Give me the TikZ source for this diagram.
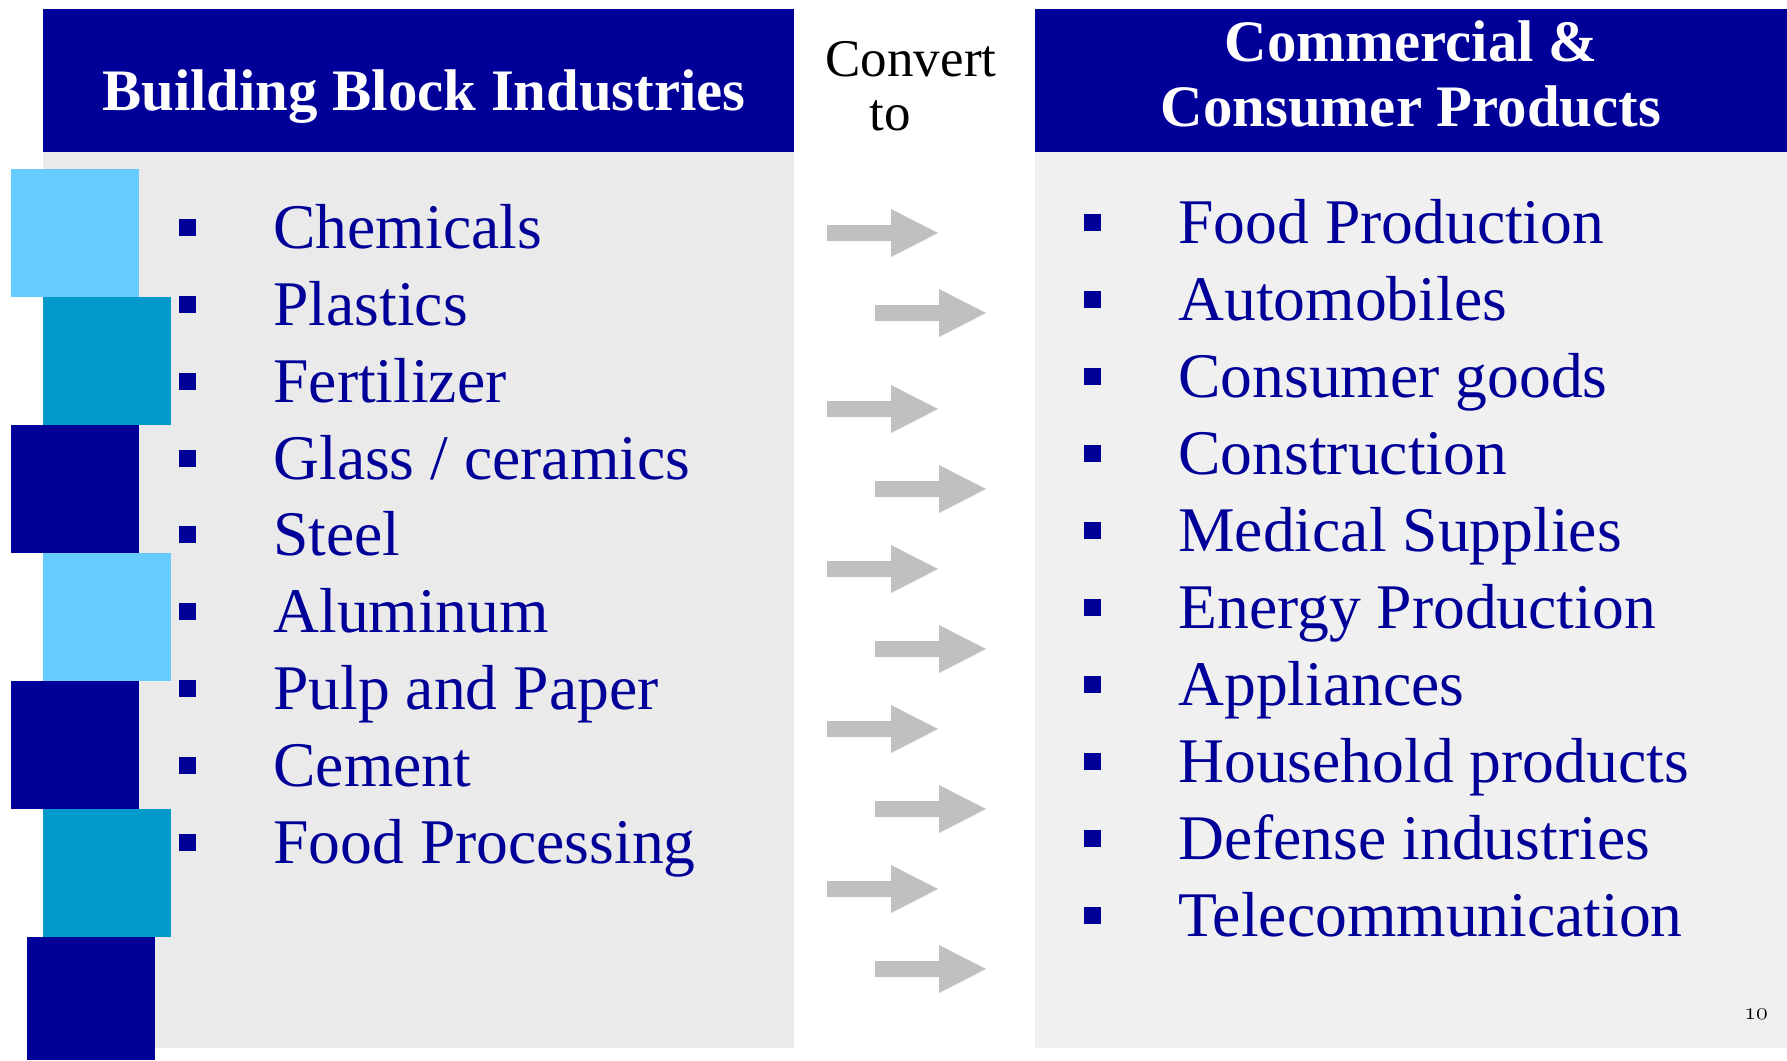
\documentclass[tikz,border=0pt]{standalone}
\usepackage{fontspec}
\setmainfont{Liberation Serif}
\definecolor{blocknavy}{HTML}{000099}
\definecolor{blocksky}{HTML}{66CCFF}
\definecolor{blockteal}{HTML}{0099CC}
\definecolor{leftgray}{HTML}{EAEAEA}
\definecolor{rightgray}{HTML}{F0F0F0}
\definecolor{arrowgray}{HTML}{C0C0C0}
\tikzset{
  head/.style={font=\bfseries\fontsize{29.4}{32.15}\selectfont, text=white, align=center, inner sep=0pt, anchor=base},
  item/.style={font=\fontsize{31.8}{38}\selectfont, text=blocknavy, anchor=base west, inner sep=0pt},
}
\begin{document}
\begin{tikzpicture}[x=0.5pt,y=-0.5pt]
\useasboundingbox (0,0) rectangle (1787,1060);
% panels
\fill[leftgray] (43,152) rectangle (794,1048);
\fill[blocknavy] (43,9) rectangle (794,152);
\fill[rightgray] (1035,152) rectangle (1787,1048);
\fill[blocknavy] (1035,9) rectangle (1787,152);

\foreach \x/\y/\c in {11/169/blocksky, 43/297/blockteal, 11/425/blocknavy, 43/553/blocksky, 11/681/blocknavy, 43/809/blockteal} % edit here for the blocks
\fill[\c,shift={(\x,\y)}] (0,0) rectangle (128,128);
\fill[blocknavy] (27,937) rectangle (155,1060);

\node[head] (bbhead) at (424,110) {Building Block Industries};
\node[head] (cphead) at (1411,126) {Commercial \&\\Consumer Products};
\node[font=\fontsize{26.5}{27}\selectfont, align=center, inner sep=0pt, anchor=base] (convert) at (911,130) {Convert\\to\hspace*{20.5pt}};

\foreach \t [count=\i] in {Chemicals, Plastics, Fertilizer, Glass / ceramics, Steel, Aluminum, Pulp and Paper, Cement, Food Processing} % edit here for the left list
{
\fill[blocknavy] (179,{219+76.85*(\i-1)}) rectangle +(17,17);
\node[item] (bb\i) at (273,{248.5+76.85*(\i-1)}) {\t};
}

\foreach \t [count=\i] in {Food Production, Automobiles, Consumer goods, Construction, Medical Supplies, Energy Production, Appliances, Household products, Defense industries, Telecommunication} % edit here for the right list
{
\fill[blocknavy] (1084,{213.5+77*(\i-1)}) rectangle +(17,17);
\node[item] (cp\i) at (1178,{243+77*(\i-1)}) {\t};
}

\foreach \x/\y in {827/233, 875/313, 827/409, 875/489, 827/569, 875/649, 827/729, 875/809, 827/889, 875/969} % edit here for the arrows
\fill[arrowgray,shift={(\x,\y)}] (0,-8) -- (64,-8) -- (64,-24) -- (111,0) -- (64,24) -- (64,8) -- (0,8) -- cycle;

\node[inner sep=0pt] (pagenum) at (1756,1014) {\fontencoding{OML}\fontfamily{cmm}\fontseries{m}\fontshape{it}\fontsize{12}{14}\selectfont 10};
\end{tikzpicture}
\end{document}
